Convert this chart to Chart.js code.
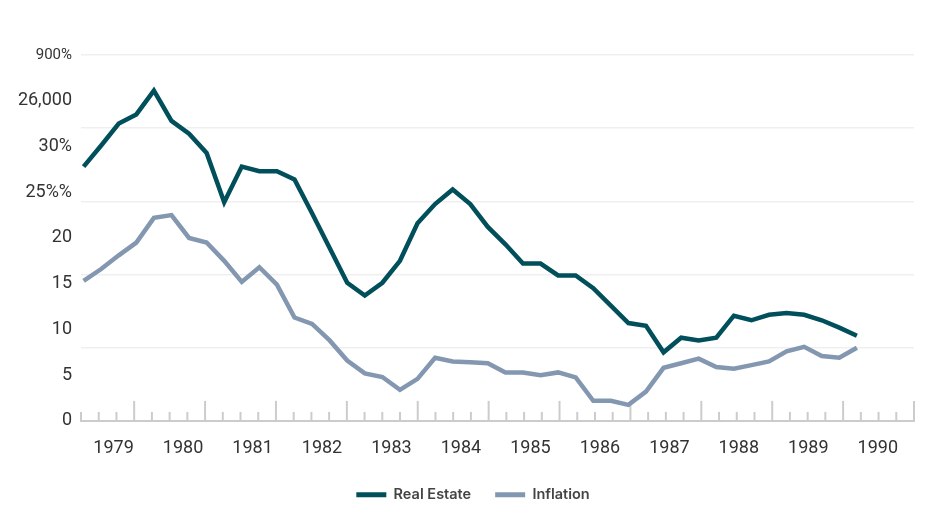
<!DOCTYPE html>
<html>
<head>
<meta charset="utf-8">
<script src="https://cdn.jsdelivr.net/npm/chart.js@4/dist/chart.umd.min.js"></script>
<style>
  html, body { margin: 0; padding: 0; background: #ffffff; }
  #wrap { width: 946px; height: 532px; position: relative; }
</style>
</head>
<body>
<div id="wrap"><canvas id="chart"></canvas></div>
<script>
// quarterly readings, 1979 Q1 onwards
const realEstate = [
  27.8, 30.1, 32.5, 33.5, 36.1, 32.8, 31.4, 29.3, 23.9, 27.8, 27.3, 27.3,
  26.4, 22.7, 18.9, 15.1, 13.7, 15.1, 17.5, 21.6, 23.7, 25.3, 23.7, 21.2,
  19.3, 17.2, 17.2, 15.9, 15.9, 14.5, 12.6, 10.7, 10.4, 7.5, 9.1, 8.8,
  9.1, 11.5, 11.0, 11.6, 11.8, 11.6, 11.0, 10.2, 9.3
];
const inflation = [
  15.3, 16.6, 18.1, 19.5, 22.2, 22.5, 20.0, 19.5, 17.5, 15.2, 16.8, 14.9,
  11.3, 10.6, 8.8, 6.6, 5.2, 4.8, 3.4, 4.6, 6.9, 6.5, 6.4, 6.3,
  5.3, 5.3, 5.0, 5.3, 4.75, 2.2, 2.2, 1.75, 3.2, 5.8, 6.3, 6.8,
  5.9, 5.7, 6.1, 6.5, 7.6, 8.1, 7.1, 6.9, 8.0
];
const years = [1979, 1980, 1981, 1982, 1983, 1984, 1985, 1986, 1987, 1988, 1989, 1990];
const yLabels = ['0', '5', '10', '15', '20', '25%%', '30%', '26,000', '900%'];
const tickMarks = 47; // small marks along the base line, every 4th is long

const toPoints = (arr) => arr.map((v, i) => ({ x: i, y: v }));

// draws the upward tick marks on the base line
const baseTicks = {
  id: 'baseTicks',
  beforeDatasetsDraw(chart) {
    const { ctx, chartArea } = chart;
    const scale = chart.scales.xt;
    ctx.save();
    ctx.strokeStyle = '#cccccc';
    ctx.lineWidth = 2;
    for (let i = 0; i <= tickMarks; i++) {
      const x = scale.getPixelForValue(i);
      const len = (i % 4 === 3) ? 20 : 9;
      ctx.beginPath();
      ctx.moveTo(x, chartArea.bottom);
      ctx.lineTo(x, chartArea.bottom - len);
      ctx.stroke();
    }
    ctx.restore();
  }
};

Chart.defaults.font.family = 'Roboto';
Chart.defaults.color = '#333333';

new Chart(document.getElementById('chart'), {
  type: 'line',
  data: {
    datasets: [
      {
        label: 'Real Estate',
        data: toPoints(realEstate),
        borderColor: '#004f5b',
        backgroundColor: '#004f5b',
        borderWidth: 4.5,
        pointRadius: 0,
        xAxisID: 'xd',
        yAxisID: 'y'
      },
      {
        label: 'Inflation',
        data: toPoints(inflation),
        borderColor: '#8497b0',
        backgroundColor: '#8497b0',
        borderWidth: 4.5,
        pointRadius: 0,
        xAxisID: 'xd',
        yAxisID: 'y'
      }
    ]
  },
  options: {
    responsive: true,
    maintainAspectRatio: false,
    animation: false,
    layout: { padding: { top: 55, right: 0, bottom: 20, left: 0 } },
    scales: {
      x: {
        type: 'linear',
        position: 'bottom',
        min: 1978.531,
        max: 1990.521,
        afterBuildTicks: (scale) => { scale.ticks = years.map(v => ({ value: v })); },
        afterFit: (scale) => { scale.height = scale.height - 13; },
        ticks: {
          callback: (v) => String(v),
          font: { size: 18 },
          padding: 17,
          color: '#333333'
        },
        grid: { display: true, drawOnChartArea: false, drawTicks: false },
        border: { display: true, color: '#cccccc', width: 2 }
      },
      xd: {
        type: 'linear',
        display: false,
        min: -0.148,
        max: 47.25
      },
      xt: {
        type: 'linear',
        display: false,
        min: 0,
        max: tickMarks
      },
      y: {
        type: 'linear',
        position: 'left',
        min: 0,
        max: 40,
        afterBuildTicks: (scale) => { scale.ticks = yLabels.map((l, i) => ({ value: i * 5 })); },
        afterFit: (scale) => { scale.width = 81; },
        ticks: {
          callback: (v, i) => yLabels[i],
          font: (ctx) => ({ size: ctx.index === 8 ? 15 : 18 }),
          padding: 9,
          color: '#333333'
        },
        grid: { display: false, drawTicks: false },
        border: { display: false }
      },
      yg: {
        type: 'linear',
        position: 'right',
        min: 0,
        max: 40,
        ticks: { display: false, stepSize: 8 },
        afterFit: (scale) => { scale.width = 32; },
        grid: { color: '#efefef', lineWidth: 1.5, drawTicks: false },
        border: { display: false }
      }
    },
    plugins: {
      legend: {
        position: 'bottom',
        labels: {
          boxWidth: 30,
          boxHeight: 5,
          padding: 24,
          color: '#444444',
          font: { family: 'Inter', size: 14.5, weight: '600' },
          generateLabels: (chart) => Chart.defaults.plugins.legend.labels.generateLabels(chart)
            .map(item => Object.assign(item, { lineWidth: 0 }))
        }
      },
      tooltip: { enabled: false }
    }
  },
  plugins: [baseTicks]
});
</script>
</body>
</html>
